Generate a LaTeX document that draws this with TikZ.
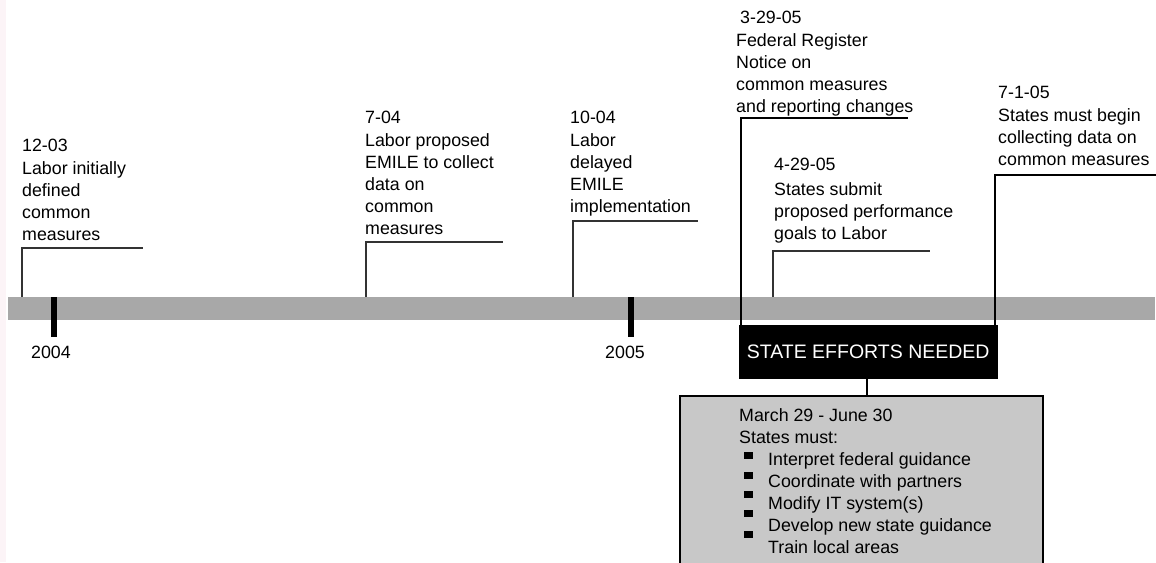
\documentclass[tikz,border=0pt]{standalone}
\usepackage{fontspec}
\setmainfont{Liberation Sans}
\definecolor{barcol}{HTML}{A8A8A8}
\definecolor{boxcol}{HTML}{C8C8C8}
\definecolor{leadcol}{HTML}{333333}
\definecolor{noisecol}{HTML}{FCF4F7}
\begin{document}
\begin{tikzpicture}[x=1pt,y=-1pt,
  lbl/.style={anchor=north west,inner sep=0pt,align=left,font=\fontsize{17.8}{22}\selectfont},
  thinlead/.style={draw=leadcol,line width=1.1pt},
  thicklead/.style={draw=black,line width=2pt},
  tick/.style={fill=black},
  yr/.style={inner sep=0pt,font=\fontsize{17.8}{21}\selectfont},
  blk/.style={fill=black,draw=black},
  bullet/.style={fill=black}]
\useasboundingbox (0,0) rectangle (1156,562);
\fill[white] (0,0) rectangle (1156,562);
\fill[noisecol] (0,0) rectangle (6,562);
% bar
\fill[barcol] (8,297) rectangle (1155,320);
% ticks
\fill[tick] (51,297) rectangle (57,337);
\fill[tick] (628,297) rectangle (634,337);
\node[yr] (y04) at (51,352) {2004};
\node[yr] (y05) at (625,352) {2005};
% event texts
\node[lbl] (e1) at (22,139) {12-03\\[1pt]Labor initially\\defined\\common\\measures};
\node[lbl] (e2) at (365,111) {7-04\\[1pt]Labor proposed\\EMILE to collect\\data on\\common\\measures};
\node[lbl] (e3) at (570,111) {10-04\\[1pt]Labor\\delayed\\EMILE\\implementation};
\node[lbl] (e4) at (736,11) {\hspace{4pt}3-29-05\\[1pt]Federal Register\\Notice on\\common measures\\and reporting changes};
\node[lbl] (e5) at (774,158) {4-29-05\\[3pt]States submit\\proposed performance\\goals to Labor};
\node[lbl] (e6) at (998,86) {7-1-05\\[1pt]States must begin\\collecting data on\\common measures};
% leader coordinates
\coordinate (b1) at (22,297); \coordinate (k1) at (22,248); \coordinate (t1) at (143,248);
\coordinate (b2) at (366,297); \coordinate (k2) at (366,242); \coordinate (t2) at (503,242);
\coordinate (b3) at (573,297); \coordinate (k3) at (573,221); \coordinate (t3) at (698,221);
\coordinate (b5) at (773,297); \coordinate (k5) at (773,251); \coordinate (t5) at (930,251);
\coordinate (k4) at (741,118); \coordinate (t4) at (908,118);
\coordinate (k6) at (995,175); \coordinate (t6) at (1156,175);
\draw[thinlead] (b1) -- (k1) -- (t1);
\draw[thinlead] (b2) -- (k2) -- (t2);
\draw[thinlead] (b3) -- (k3) -- (t3);
\draw[thinlead] (b5) -- (k5) -- (t5);
% black box
\node[blk,minimum width=258pt,minimum height=53pt,inner sep=0pt,anchor=north west,
  text=white,font=\fontsize{19.5}{22}\selectfont] (sen) at (739,325) {STATE EFFORTS NEEDED};
\draw[thicklead] (sen.north west -| k4) -- (k4) -- (t4);
\draw[thicklead] (sen.north west -| k6) -- (k6) -- (t6);
% gray box
\fill[boxcol] (680,396) rectangle (1043,563);
\draw[black,line width=1.5pt] (680,565) -- (680,396) -- (1043,396) -- (1043,565);
\coordinate (gtop) at (867,396);
\draw[thicklead] (sen.south -| gtop) -- (gtop);
\node[lbl] (g1) at (739,408) {March 29 - June 30\\States must:};
\node[lbl] (g2) at (768,452) {Interpret federal guidance\\Coordinate with partners\\Modify IT system(s)\\Develop new state guidance\\Train local areas};
\fill[bullet] (744,451.5) rectangle (753,458.5);
\fill[bullet] (744,471.5) rectangle (753,478.5);
\fill[bullet] (744,490.5) rectangle (753,497.5);
\fill[bullet] (744,509.5) rectangle (753,516.5);
\fill[bullet] (744,530.5) rectangle (753,537.5);
\end{tikzpicture}
\end{document}
